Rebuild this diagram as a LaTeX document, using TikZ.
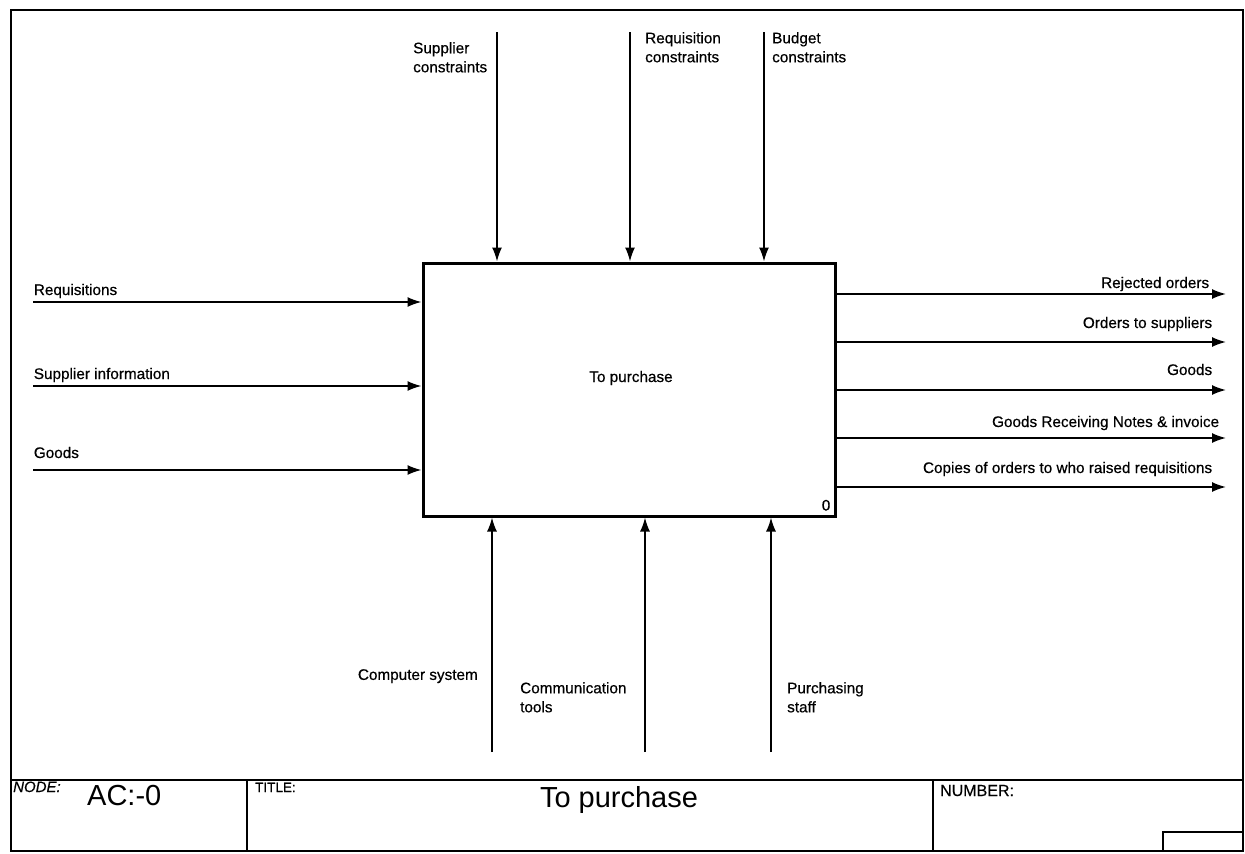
\documentclass[tikz,border=0pt]{standalone}
\usepackage{fontspec}
\setmainfont{Liberation Sans}
\newfontfamily\heavyfont[FakeBold=0.5]{Liberation Sans}
\usetikzlibrary{arrows.meta, positioning}

\tikzset{
  flow/.style={line width=1.7pt, -{Latex[length=14pt,width=10pt]}},
  lbl/.style={font=\heavyfont\fontsize{15.3}{19}\selectfont, inner sep=0pt, align=left},
  hdr/.style={font=\heavyfont\fontsize{13.5}{16}\selectfont, inner sep=0pt},
  big/.style={font=\fontsize{29}{34}\selectfont, inner sep=0pt},
}

\begin{document}
\begin{tikzpicture}[x=1pt, y=-1pt]
\useasboundingbox (0,0) rectangle (1245,854);

% sheet frame and title block
\draw[line width=1.6pt] (11,10) rectangle (1243,851);
\draw[line width=2pt] (11,780) -- (1243,780);
\draw[line width=1.6pt] (247,780) -- (247,851);
\draw[line width=1.6pt] (933,780) -- (933,851);
\draw[line width=1.6pt] (1163,851) -- (1163,832) -- (1243,832);
\node[hdr, font=\heavyfont\fontsize{15}{18}\selectfont, anchor=base west] (nodehdr) at (13,792) {\itshape NODE:};
\node[big, anchor=base west] (nodeno) at (87,805) {AC:-0};
\node[hdr, anchor=base west] (titlehdr) at (255,792) {TITLE:};
\node[big, anchor=base] (title) at (619,807) {To purchase};
\node[hdr, font=\heavyfont\fontsize{16}{19}\selectfont, anchor=base west] (numhdr) at (940,796) {NUMBER:};

% activity box
\node[draw, line width=3pt, minimum width=412pt, minimum height=253pt] (act) at (629,389.5) {};
\node[lbl, anchor=base] (actname) at (631,382) {To purchase};
\node[lbl, anchor=base east] (actno) at ([xshift=-6pt,yshift=7pt]act.south east) {0};

% inputs
\coordinate (in1) at (33,302);
\coordinate (in2) at (33,386);
\coordinate (in3) at (33,470);
\draw[flow] (in1) node[lbl, anchor=base west, yshift=7pt] (req) {Requisitions} -- (in1 -| act.west);
\draw[flow] (in2) node[lbl, anchor=base west, yshift=7pt] (supinfo) {Supplier information} -- (in2 -| act.west);
\draw[flow] (in3) node[lbl, anchor=base west, yshift=12pt] (goodsin) {Goods} -- (in3 -| act.west);

% controls
\coordinate (ctl1) at (497,32);
\coordinate (ctl2) at (630,32);
\coordinate (ctl3) at (764,32);
\draw[flow] (ctl1) -- (ctl1 |- act.north);
\draw[flow] (ctl2) -- (ctl2 |- act.north);
\draw[flow] (ctl3) -- (ctl3 |- act.north);
\node[lbl, anchor=north west] (supcon) at (413,42) {Supplier\\constraints};
\node[lbl, anchor=north west] (reqcon) at (645,32) {Requisition\\constraints};
\node[lbl, anchor=north west] (budcon) at (772,32) {Budget\\constraints};

% outputs
\coordinate (out1) at (1226,294);
\coordinate (out2) at (1226,342);
\coordinate (out3) at (1226,390);
\coordinate (out4) at (1226,438);
\coordinate (out5) at (1226,487);
\draw[flow] (out1 -| act.east) -- (out1) node[lbl, anchor=base east, xshift=-16pt, yshift=6pt] (rejected) {Rejected orders};
\draw[flow] (out2 -| act.east) -- (out2) node[lbl, anchor=base east, xshift=-13pt, yshift=14pt] (orders) {Orders to suppliers};
\draw[flow] (out3 -| act.east) -- (out3) node[lbl, anchor=base east, xshift=-13pt, yshift=15pt] (goodsout) {Goods};
\draw[flow] (out4 -| act.east) -- (out4) node[lbl, anchor=base east, xshift=-6pt, yshift=11pt] (grn) {Goods Receiving Notes \& invoice};
\draw[flow] (out5 -| act.east) -- (out5) node[lbl, anchor=base east, xshift=-13pt, yshift=14pt] (copies) {Copies of orders to who raised requisitions};

% mechanisms
\coordinate (mech1) at (492,752);
\coordinate (mech2) at (645,752);
\coordinate (mech3) at (771,752);
\draw[flow] (mech1) -- (mech1 |- act.south);
\draw[flow] (mech2) -- (mech2 |- act.south);
\draw[flow] (mech3) -- (mech3 |- act.south);
\node[lbl, anchor=north east] (computer) at (478,669) {Computer system};
\node[lbl, anchor=north west] (comms) at (520,682) {Communication\\tools};
\node[lbl, anchor=north west] (staff) at (787,682) {Purchasing\\staff};
\end{tikzpicture}
\end{document}
